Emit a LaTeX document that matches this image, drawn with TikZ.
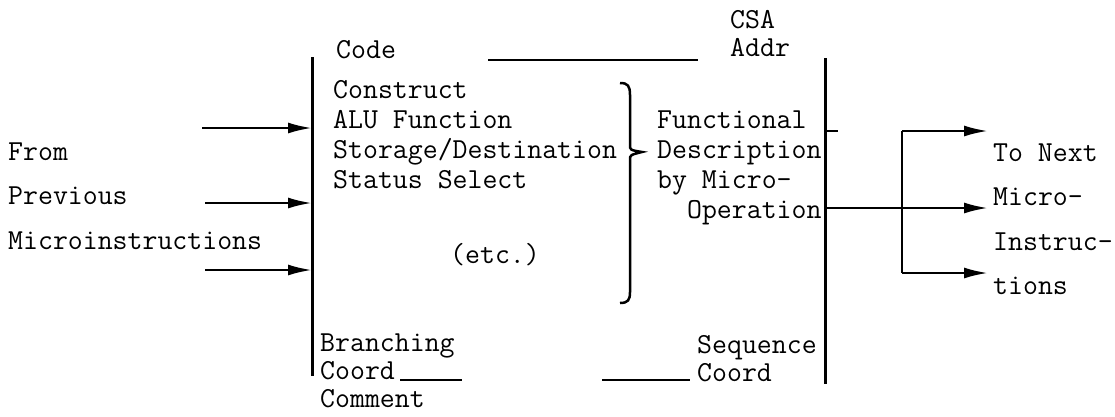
\documentclass[tikz,border=0pt]{standalone}
\usepackage{fontspec}
\usetikzlibrary{arrows.meta}
\newcommand\tw{\fontsize{29}{30}\selectfont\ttfamily}
\begin{document}
\begin{tikzpicture}[x=1pt, y=-1pt,
  txt/.style = {font=\tw, anchor=base west, inner sep=0, align=left},
  wide/.style = {txt, font=\fontsize{29}{44.5}\selectfont\ttfamily},
  tight/.style = {txt, font=\fontsize{29}{28}\selectfont\ttfamily},
  bar/.style = {line width=3pt},
  wire/.style = {line width=2.5pt},
  arr/.style = {wire, -{Latex[length=24pt, width=11pt]}}]
\useasboundingbox (0,0) rectangle (1115,416);

% the box
\coordinate (lt) at (312,57);
\coordinate (lb) at (312,376);
\coordinate (rt) at (825,58);
\coordinate (rb) at (825,384);
\draw[bar] (lt) -- (lb);
\draw[bar] (rt) -- (rb);

% fields (base = last line)
\node[tight] (csa) at (730,56) {CSA\\Addr};
\node[txt] (code) at (336,58) {Code};
\draw[wire] (488,60) -- (698,60);
\node[txt] (ops) at (333,188) {Construct\\ALU Function\\Storage/Destination\\Status Select};
\node[txt, anchor=base] (etc) at (495,263) {(etc.)};
\node[txt] (fdesc) at (657,218) {Functional\\Description\\by Micro-\\\phantom{by}Operation};
\draw[wire] (620,83) .. controls (628,83) and (630,86) .. (630,95) -- (630,145)
  .. controls (630,150) .. (642,152) .. controls (630,155) .. (630,160) -- (630,292)
  .. controls (630,300) and (628,303) .. (620,303);
\node[tight] (brn) at (320,407) {Branching\\Coord\\Comment};
\node[tight] (seq) at (697,381) {Sequence\\Coord};
\draw[wire] (400,380) -- (462,380);
\draw[wire] (602,380) -- (690,380);

% inputs
\node[wide] (src) at (8,249) {From\\Previous\\Microinstructions};
\coordinate (i1) at (202,128);
\coordinate (i2) at (205,203);
\coordinate (i3) at (205,270);
\foreach \i in {i1,i2,i3}
  \draw[arr] (\i) -- (\i -| lt);

% outputs
\coordinate (f1) at (902,131);
\coordinate (f3) at (902,273);
\coordinate (o1) at (988,131);
\coordinate (o2) at (988,208);
\coordinate (o3) at (988,273);
\draw[wire] (rt |- f1) -- ++(13,0);
\draw[arr] (rt |- o2) -- (o2);
\draw[wire] (f1) -- (f3);
\draw[arr] (f1) -- (o1);
\draw[arr] (f3) -- (o3);
\node[wide] (dst) at (993,294.5) {To Next\\Micro-\\Instruc-\\tions};
\end{tikzpicture}
\end{document}
